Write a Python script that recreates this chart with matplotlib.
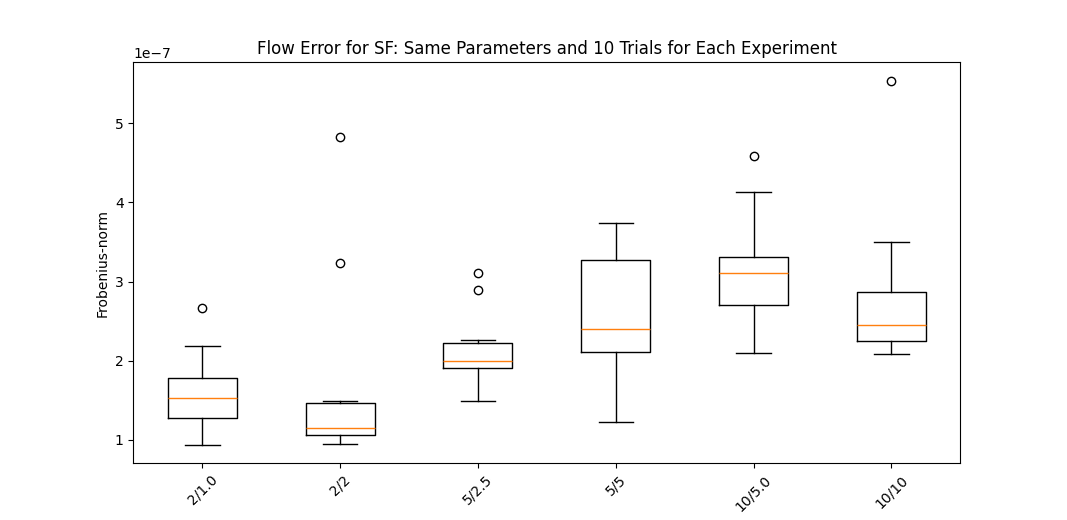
import matplotlib
matplotlib.use("Agg")
import matplotlib.pyplot as plt

labels = ["2/1.0", "2/2", "5/2.5", "5/5", "10/5.0", "10/10"]
whislo = [0.94, 0.95, 1.49, 1.23, 2.10, 2.09]
q1 = [1.28, 1.06, 1.91, 2.11, 2.70, 2.25]
med = [1.53, 1.15, 2.00, 2.40, 3.11, 2.45]
q3 = [1.78, 1.46, 2.22, 3.27, 3.31, 2.87]
whishi = [2.19, 1.49, 2.26, 3.74, 4.13, 3.50]
fliers = [[2.67], [3.23, 4.83], [2.89, 3.11], [], [4.59], [5.54]]
scale = 1e-7

stats = []
for i, lab in enumerate(labels):
    stats.append(dict(label=lab, whislo=whislo[i]*scale, q1=q1[i]*scale, med=med[i]*scale,
                      q3=q3[i]*scale, whishi=whishi[i]*scale,
                      fliers=[f*scale for f in fliers[i]]))

fig, ax = plt.subplots(figsize=(10.67, 5.2), dpi=100)
ax.bxp(stats)
ax.set_title("Flow Error for SF: Same Parameters and 10 Trials for Each Experiment")
ax.set_ylabel("Frobenius-norm")
plt.setp(ax.get_xticklabels(), rotation=45)
fig.savefig("out.png", dpi=100)
